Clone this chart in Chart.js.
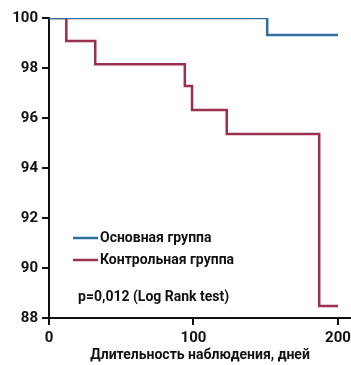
<!DOCTYPE html>
<html>
<head>
<meta charset="utf-8">
<script src="https://cdn.jsdelivr.net/npm/chart.js@4"></script>
<style>
	html, body { margin: 0; padding: 0; background: #fff; }
	#wrap { width: 351px; height: 365px; }
</style>
</head>
<body>
<div id="wrap"><canvas id="c"></canvas></div>
<script>
// Kaplan-Meier steps
const mainDays = [0, 151, 200];
const mainSurv = [100, 99.32, 99.32];
const ctrlDays = [0, 12, 32, 94, 99, 123, 187, 200];
const ctrlSurv = [100, 99.08, 98.15, 97.28, 96.32, 95.36, 88.48, 88.48];
const seriesNames = ['Основная группа', 'Контрольная группа'];
const xTicks = [0, 100, 200];
const pText = 'p=0,012 (Log Rank test)';
const xTitle = 'Длительность наблюдения, дней';

const BLUE = '#2f6f9e';
const RED = '#9b2f4e';
const FONT = 'Roboto';

const toPoints = (xs, ys) => xs.map((x, i) => ({ x, y: ys[i] }));

// legend + p-value drawn inside the plot
const innerLegend = {
	id: 'innerLegend',
	afterDraw(chart){
		const ctx = chart.ctx;
		ctx.save();
		ctx.font = 'bold 14px ' + FONT;
		ctx.textBaseline = 'middle';
		ctx.fillStyle = '#111';
		chart.data.datasets.forEach((ds, i) => {
			const y = 238 + i * 22;
			ctx.strokeStyle = ds.borderColor;
			ctx.lineWidth = 2.5;
			ctx.beginPath();
			ctx.moveTo(73, y);
			ctx.lineTo(98, y);
			ctx.stroke();
			ctx.fillText(ds.label, 100, y);
		});
		ctx.fillText(pText, 78, 297);
		ctx.restore();
	}
};

new Chart(document.getElementById('c'), {
	type: 'line',
	data: {
		datasets: [{
			label: seriesNames[0],
			data: toPoints(mainDays, mainSurv),
			borderColor: BLUE,
			borderWidth: 2.5,
			stepped: true,
			pointRadius: 0,
			fill: false
		}, {
			label: seriesNames[1],
			data: toPoints(ctrlDays, ctrlSurv),
			borderColor: RED,
			borderWidth: 2.5,
			stepped: true,
			pointRadius: 0,
			fill: false
		}]
	},
	options: {
		animation: false,
		responsive: true,
		maintainAspectRatio: false,
		layout: { padding: { top: 18, right: 0, left: 0, bottom: 0 } },
		plugins: {
			legend: { display: false },
			tooltip: { enabled: false }
		},
		scales: {
			x: {
				type: 'linear',
				min: 0,
				max: 209,
				afterBuildTicks: (s) => { s.ticks = xTicks.map(v => ({ value: v })); },
				afterFit: (s) => { s.height = 47; s.paddingRight = 0; s.paddingLeft = 0; },
				border: { display: true, color: '#111', width: 2 },
				grid: { drawOnChartArea: false, drawTicks: true, tickLength: 7, color: '#111', lineWidth: 2 },
				ticks: { color: '#111', font: { family: FONT, size: 15, weight: 'bold' }, padding: 4, maxRotation: 0 },
				title: { display: true, text: xTitle, color: '#111', font: { family: FONT, size: 14, weight: 'bold' }, padding: { top: 0, bottom: 1 } }
			},
			y: {
				min: 88,
				max: 100,
				ticks: { stepSize: 2, color: '#111', font: { family: FONT, size: 15, weight: 'bold' }, padding: 4 },
				afterFit: (s) => { s.width = 49; },
				border: { display: true, color: '#111', width: 2 },
				grid: { drawOnChartArea: false, drawTicks: true, tickLength: 7, color: '#111', lineWidth: 2 }
			}
		}
	},
	plugins: [innerLegend]
});
</script>
</body>
</html>
